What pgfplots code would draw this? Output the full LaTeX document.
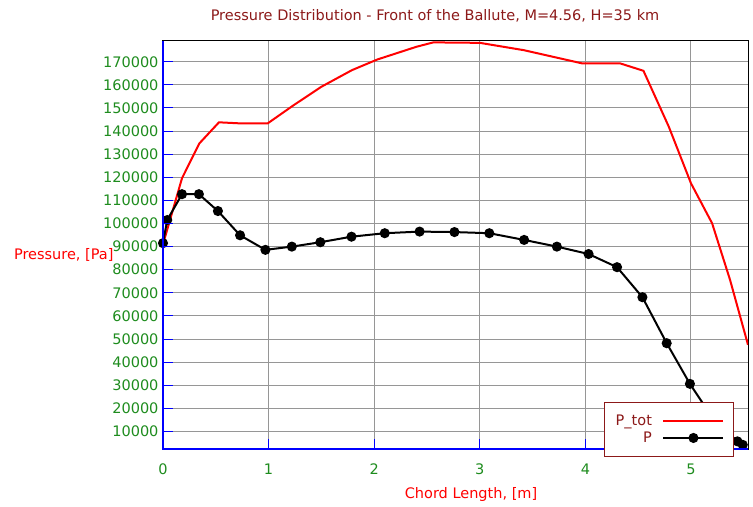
\documentclass[border=0pt]{standalone}
\usepackage{pgfplots}
\pgfplotsset{compat=1.18}
\usepackage{fontspec}
\setmainfont{DejaVu Sans}

\definecolor{darkred}{RGB}{140,25,25}
\definecolor{tickgreen}{RGB}{30,140,30}
\definecolor{gridgray}{RGB}{150,150,150}

\begin{document}
\begin{tikzpicture}[font=\fontsize{14.5bp}{17bp}\selectfont]
\begin{axis}[
    scale only axis,
    width=585bp, height=408bp,
    xmin=0, xmax=5.54,
    ymin=2400, ymax=179000,
    xtick={0,1,2,3,4,5},
    ytick={10000,20000,...,170000},
    scaled y ticks=false,
    /pgf/number format/.cd, fixed, 1000 sep={}, assume math mode=true,
    /pgfplots/.cd,
    grid=major,
    grid style={gridgray, line width=1bp},
    tick align=inside,
    xtick pos=left, ytick pos=left,
    major tick length=10bp,
    tick style={blue, line width=1bp},
    axis line style={black, line width=1bp},
    ticklabel style={text=tickgreen},
    yticklabel style={xshift=-1bp},
    xticklabel style={yshift=-11bp},
    title={Pressure Distribution - Front of the Ballute, M=4.56, H=35 km},
    title style={text=darkred, at={(0.465,1)}, anchor=center, yshift=19bp},
    xlabel={Chord Length, [m]},
    xlabel style={text=red, at={(0.5265,0)}, anchor=center, yshift=-45bp},
    ylabel={Pressure, [Pa]},
    ylabel style={text=red, rotate=-90, at={(0,0.4755)}, anchor=east, xshift=-46bp},
    legend style={draw=darkred, line width=1bp, fill=white, text=darkred,
        at={(0.976,-0.0196)}, anchor=south east,
        nodes={inner sep=2.5bp}, inner xsep=9bp, inner ysep=10bp,
        /tikz/every odd column/.append style={column sep=8bp}},
    legend plot pos=right,
    legend cell align=right,
    legend image code/.code={
        \draw[mark repeat=2,mark phase=2] plot coordinates {(0bp,0bp)(30bp,0bp)(60bp,0bp)};
    },
    after end axis/.code={
        \foreach \v in {10000,20000,30000,40000,50000,60000,70000,80000,90000,
                100000,110000,120000,130000,140000,150000,160000,170000} {
            \draw[blue, line width=1bp] (axis cs:0,\v) -- ++(10bp,0);
        }
        \foreach \v in {1,2,3,4,5} {
            \draw[blue, line width=1bp] (axis cs:\v,2400) -- ++(0,10bp);
        }
        \draw[blue, line width=1.2bp] (rel axis cs:0,1) -- (rel axis cs:0,0) -- (rel axis cs:1,0);
    },
]
\addplot[red, line width=2bp, no markers] coordinates {
    (0,91000) (0.18,119600) (0.345,134700) (0.53,143800) (0.75,143300)
    (0.99,143300) (1.24,151300) (1.50,159200) (1.79,166400) (2.03,171000)
    (2.40,176500) (2.56,178400) (3.0,178200) (3.42,175000) (3.97,169300)
    (4.33,169300) (4.55,166100) (4.79,141900) (5.00,117400) (5.20,100100)
    (5.37,75600) (5.54,47500)
};
\addlegendentry{P\_tot}
\addplot[black, line width=2bp, mark=*, mark size=4bp] coordinates {
    (0,91500) (0.04,101500) (0.18,112700) (0.34,112700) (0.52,105400)
    (0.73,94900) (0.97,88600) (1.22,90000) (1.49,91900) (1.785,94300)
    (2.10,95800) (2.43,96500) (2.76,96300) (3.09,95800) (3.42,92900)
    (3.73,90000) (4.03,86800) (4.30,81100) (4.54,68100) (4.77,48200)
    (4.99,30600) (5.21,15500) (5.44,5700) (5.49,4200)
};
\addlegendentry{P}
\end{axis}
\pgfresetboundingbox
\path[use as bounding box] ([xshift=-163bp,yshift=-58bp]current axis.south west)
    rectangle ([xshift=5bp,yshift=41bp]current axis.north east);
\end{tikzpicture}
\end{document}
